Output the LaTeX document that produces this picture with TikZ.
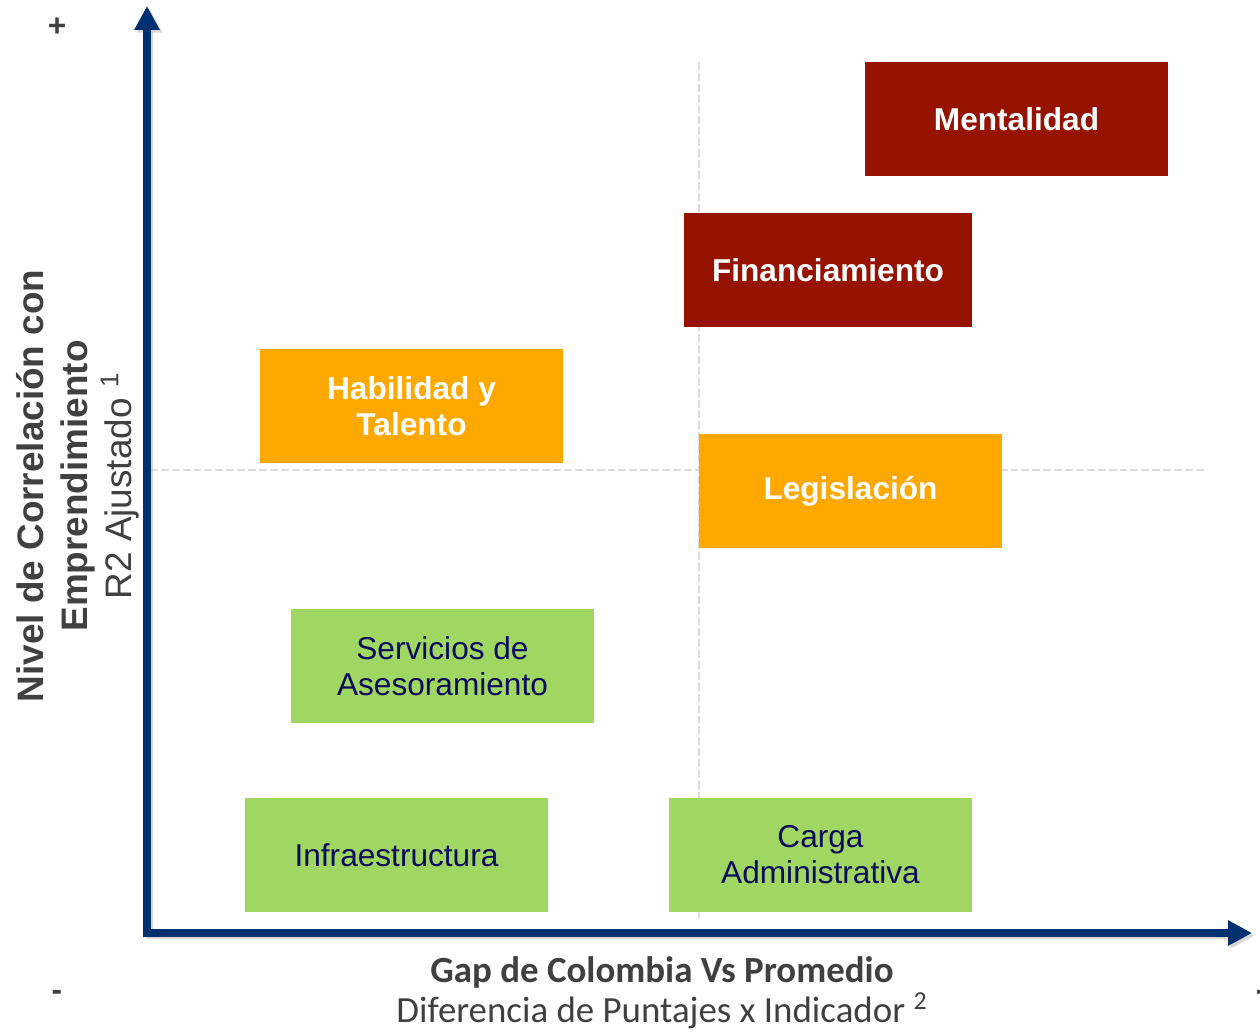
\documentclass[tikz,border=0pt]{standalone}
\usepackage{fontspec}
\setmainfont{Liberation Sans}
\newfontfamily\calibri{Carlito}
\usepackage{tikz}
\usetikzlibrary{arrows.meta}
\definecolor{rojo}{HTML}{951300}
\definecolor{naranja}{HTML}{FFA800}
\definecolor{verde}{HTML}{A0D662}
\definecolor{azul}{HTML}{00306F}
\definecolor{texto}{HTML}{0B0B5C}
\definecolor{gris}{HTML}{404040}
\definecolor{guia}{HTML}{DCDCDC}
\tikzset{
	factor/.style={minimum width=6.06cm, minimum height=2.28cm, inner sep=0pt, align=center,
		font=\fontsize{18}{20.4}\selectfont},
	alto/.style={factor, fill=#1, text=white, font=\fontsize{18}{20.4}\selectfont\bfseries},
	bajo/.style={factor, fill=verde, text=texto},
	guialinea/.style={draw=guia, line width=1.2pt, dash pattern=on 4.5pt off 1.7pt},
	eje/.style={draw=azul, line width=4pt, line join=miter, {Triangle[width=13.6pt,length=13.6pt]}-{Triangle[width=13.6pt,length=13.6pt]}},
	signo/.style={text=gris, font=\fontsize{18}{20}\selectfont\bfseries}
}
\begin{document}
\begin{tikzpicture}[x=0.02cm, y=-0.02cm]
	\useasboundingbox (0,0) rectangle (1260,1033);
	% guias
	\coordinate (vg1) at (699,62);
	\coordinate (vg2) at (699,918);
	\coordinate (hg1) at (150,470);
	\coordinate (hg2) at (1204,470);
	\path[guialinea] (vg1) -- (vg2) (hg1) -- (hg2);
	% ejes
	\coordinate (o) at (147,933);
	\coordinate (ytop) at (147,6);
	\coordinate (xend) at (1252,933);
	\path[eje, draw=black!30, opacity=0.5, transform canvas={shift={(1.5pt,-1.5pt)}}] (ytop) -- (o) -- (xend);
	\path[eje] (ytop) -- (o) -- (xend);
	% factores
	\node[alto=rojo] (ment) at (1016.5,119) {Mentalidad};
	\node[alto=rojo, minimum width=5.76cm] (fin) at (828,270) {Financiamiento};
	\node[alto=naranja] (hab) at (411.5,406) {Habilidad y\\Talento};
	\node[alto=naranja] (leg) at (850.5,491) {Legislación};
	\node[bajo] (serv) at (442.5,666) {Servicios de\\Asesoramiento};
	\node[bajo] (infra) at (396.5,855) {Infraestructura};
	\node[bajo] (carga) at (820.5,855) {Carga\\Administrativa};
	% etiquetas
	\node[rotate=90, align=center, text=gris, font=\fontsize{21}{25}\selectfont] (ylab) at (78,486)
		{\textbf{Nivel de Correlación con}\\\textbf{Emprendimiento}\\R2 Ajustado \textsuperscript{1}};
	\node[align=center, text=gris, font=\calibri\fontsize{21}{23}\selectfont] (xlab) at (662,993)
		{\textbf{Gap de Colombia Vs Promedio}\\Diferencia de Puntajes x Indicador \textsuperscript{2}};
	\node[signo] (mas) at (57,27) {+};
	\node[signo] (menos1) at (57,995) {-};
	\node[signo] (menos2) at (1261,995) {-};
\end{tikzpicture}
\end{document}
